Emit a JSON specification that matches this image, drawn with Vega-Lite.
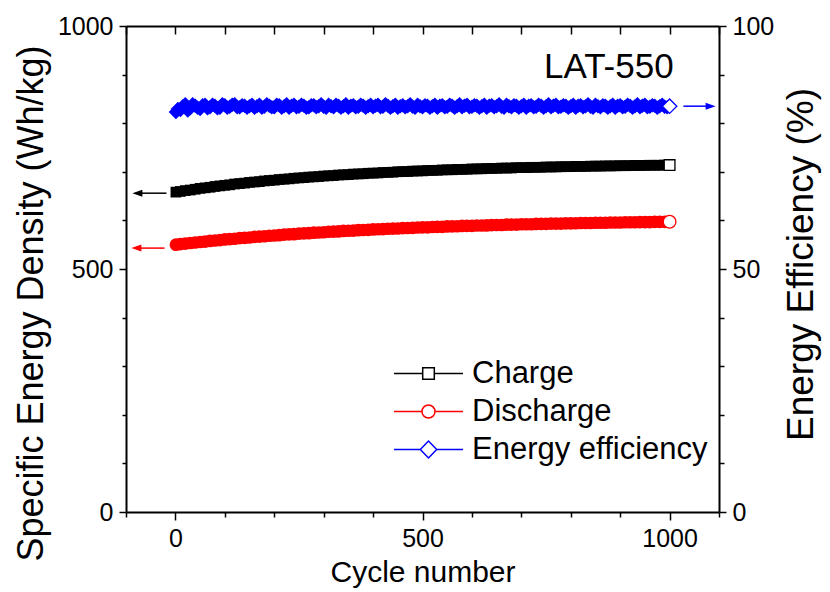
{
  "$schema": "https://vega.github.io/schema/vega-lite/v6.json",
  "width": 593,
  "height": 486,
  "autosize": {"type": "none"},
  "padding": {"left": 126, "top": 26, "right": 111, "bottom": 80},
  "background": "white",
  "config": {
    "view": {"stroke": null},
    "font": "Liberation Sans",
    "axis": {
      "grid": false,
      "domainColor": "black",
      "domainWidth": 2,
      "tickColor": "black",
      "tickWidth": 1.5,
      "labelColor": "black",
      "titleColor": "black",
      "labelFont": "Liberation Sans",
      "titleFont": "Liberation Sans",
      "labelFontSize": 25,
      "titleFontSize": 30,
      "titleFontWeight": "normal",
      "titleLimit": 1000,
      "labelOverlap": false,
      "labelFlush": false
    }
  },
  "datasets": {
    "cyc": [
      {"c":1,"ch":658.2,"dc":550.1},{"c":10,"ch":659.6,"dc":551.2},{"c":20,"ch":661.4,"dc":552.3},{"c":30,"ch":662.5,"dc":553.4},
      {"c":40,"ch":664.1,"dc":554.5},{"c":50,"ch":665.9,"dc":555.6},{"c":60,"ch":667.0,"dc":556.4},{"c":70,"ch":668.2,"dc":557.8},
      {"c":80,"ch":669.8,"dc":558.6},{"c":90,"ch":671.0,"dc":559.4},{"c":100,"ch":672.2,"dc":560.8},{"c":110,"ch":673.2,"dc":561.5},
      {"c":120,"ch":674.9,"dc":562.2},{"c":130,"ch":675.8,"dc":563.5},{"c":140,"ch":676.7,"dc":564.2},{"c":150,"ch":678.2,"dc":564.8},
      {"c":160,"ch":679.0,"dc":566.1},{"c":170,"ch":679.8,"dc":566.7},{"c":180,"ch":681.2,"dc":567.3},{"c":190,"ch":682.1,"dc":568.5},
      {"c":200,"ch":682.8,"dc":569.0},{"c":210,"ch":684.1,"dc":569.6},{"c":220,"ch":684.8,"dc":570.7},{"c":230,"ch":685.5,"dc":571.2},
      {"c":240,"ch":686.7,"dc":571.7},{"c":250,"ch":687.4,"dc":572.8},{"c":260,"ch":688.0,"dc":573.3},{"c":270,"ch":689.1,"dc":573.7},
      {"c":280,"ch":689.6,"dc":574.7},{"c":290,"ch":690.2,"dc":575.2},{"c":300,"ch":691.3,"dc":575.6},{"c":310,"ch":691.8,"dc":576.6},
      {"c":320,"ch":692.3,"dc":577.0},{"c":330,"ch":693.4,"dc":577.3},{"c":340,"ch":693.8,"dc":578.3},{"c":350,"ch":694.2,"dc":578.7},
      {"c":360,"ch":695.3,"dc":579.0},{"c":370,"ch":695.6,"dc":579.9},{"c":380,"ch":696.0,"dc":580.2},{"c":390,"ch":697.0,"dc":580.5},
      {"c":400,"ch":697.3,"dc":581.4},{"c":410,"ch":697.6,"dc":581.7},{"c":420,"ch":698.6,"dc":582.0},{"c":430,"ch":698.9,"dc":582.8},
      {"c":440,"ch":699.2,"dc":583.1},{"c":450,"ch":700.1,"dc":583.3},{"c":460,"ch":700.4,"dc":584.1},{"c":470,"ch":700.6,"dc":584.4},
      {"c":480,"ch":701.4,"dc":584.6},{"c":490,"ch":701.7,"dc":585.4},{"c":500,"ch":701.9,"dc":585.6},{"c":510,"ch":702.7,"dc":585.7},
      {"c":520,"ch":702.9,"dc":586.5},{"c":530,"ch":703.1,"dc":586.7},{"c":540,"ch":703.8,"dc":586.8},{"c":550,"ch":704.1,"dc":587.6},
      {"c":560,"ch":704.2,"dc":587.7},{"c":570,"ch":704.9,"dc":587.9},{"c":580,"ch":705.0,"dc":588.6},{"c":590,"ch":705.2,"dc":588.7},
      {"c":600,"ch":705.9,"dc":588.8},{"c":610,"ch":706.0,"dc":589.5},{"c":620,"ch":706.2,"dc":589.6},{"c":630,"ch":706.8,"dc":589.7},
      {"c":640,"ch":706.9,"dc":590.4},{"c":650,"ch":707.1,"dc":590.5},{"c":660,"ch":707.7,"dc":590.6},{"c":670,"ch":707.7,"dc":591.2},
      {"c":680,"ch":707.8,"dc":591.3},{"c":690,"ch":708.5,"dc":591.4},{"c":700,"ch":708.5,"dc":592.0},{"c":710,"ch":708.6,"dc":592.1},
      {"c":720,"ch":709.2,"dc":592.1},{"c":730,"ch":709.2,"dc":592.7},{"c":740,"ch":709.3,"dc":592.8},{"c":750,"ch":709.9,"dc":592.8},
      {"c":760,"ch":709.9,"dc":593.4},{"c":770,"ch":710.0,"dc":593.4},{"c":780,"ch":710.5,"dc":593.5},{"c":790,"ch":710.5,"dc":594.0},
      {"c":800,"ch":710.6,"dc":594.0},{"c":810,"ch":711.1,"dc":594.1},{"c":820,"ch":711.1,"dc":594.6},{"c":830,"ch":711.2,"dc":594.6},
      {"c":840,"ch":711.6,"dc":594.7},{"c":850,"ch":711.7,"dc":595.2},{"c":860,"ch":711.7,"dc":595.2},{"c":870,"ch":712.1,"dc":595.2},
      {"c":880,"ch":712.1,"dc":595.7},{"c":890,"ch":712.2,"dc":595.7},{"c":900,"ch":712.6,"dc":595.7},{"c":910,"ch":712.5,"dc":596.2},
      {"c":920,"ch":712.7,"dc":596.1},{"c":930,"ch":713.1,"dc":596.2},{"c":940,"ch":713.0,"dc":596.6},{"c":950,"ch":713.1,"dc":596.6},
      {"c":960,"ch":713.5,"dc":596.6},{"c":970,"ch":713.4,"dc":597.1},{"c":980,"ch":713.5,"dc":597.0},{"c":990,"ch":713.9,"dc":597.1},
      {"c":1000,"ch":713.8,"dc":597.3}
    ],
    "eff": [
      {"c":1,"ee":82.3},{"c":5,"ee":82.9},{"c":10,"ee":82.7},{"c":15,"ee":83.5},{"c":20,"ee":83.9},{"c":25,"ee":82.6},{"c":30,"ee":83.1},{"c":35,"ee":83.9},
      {"c":40,"ee":83.6},{"c":45,"ee":83.2},{"c":50,"ee":82.9},{"c":55,"ee":83.7},{"c":60,"ee":83.8},{"c":65,"ee":83.1},{"c":70,"ee":83.3},{"c":75,"ee":83.8},
      {"c":80,"ee":83.6},{"c":85,"ee":83.1},{"c":90,"ee":83.2},{"c":95,"ee":83.9},{"c":100,"ee":83.7},{"c":105,"ee":83.2},{"c":110,"ee":83.4},{"c":115,"ee":83.8},
      {"c":120,"ee":83.9},{"c":125,"ee":83.3},{"c":130,"ee":83.3},{"c":135,"ee":83.7},{"c":140,"ee":83.6},{"c":145,"ee":83.2},{"c":150,"ee":83.5},{"c":155,"ee":83.8},
      {"c":160,"ee":83.2},{"c":165,"ee":83.5},{"c":170,"ee":83.8},{"c":175,"ee":83.2},{"c":180,"ee":83.4},{"c":185,"ee":83.9},{"c":190,"ee":83.6},{"c":195,"ee":83.3},
      {"c":200,"ee":83.3},{"c":205,"ee":83.8},{"c":210,"ee":83.7},{"c":215,"ee":83.2},{"c":220,"ee":83.5},{"c":225,"ee":83.9},{"c":230,"ee":83.2},{"c":235,"ee":83.6},
      {"c":240,"ee":83.8},{"c":245,"ee":83.3},{"c":250,"ee":83.4},{"c":255,"ee":83.8},{"c":260,"ee":83.6},{"c":265,"ee":83.2},{"c":270,"ee":83.3},{"c":275,"ee":83.7},
      {"c":280,"ee":83.7},{"c":285,"ee":83.3},{"c":290,"ee":83.5},{"c":295,"ee":83.9},{"c":300,"ee":83.4},{"c":305,"ee":83.2},{"c":310,"ee":83.8},{"c":315,"ee":83.5},
      {"c":320,"ee":83.3},{"c":325,"ee":83.8},{"c":330,"ee":83.6},{"c":335,"ee":83.2},{"c":340,"ee":83.5},{"c":345,"ee":83.9},{"c":350,"ee":83.2},{"c":355,"ee":83.6},
      {"c":360,"ee":83.7},{"c":365,"ee":83.3},{"c":370,"ee":83.4},{"c":375,"ee":83.8},{"c":380,"ee":83.6},{"c":385,"ee":83.2},{"c":390,"ee":83.5},{"c":395,"ee":83.8},
      {"c":400,"ee":83.3},{"c":405,"ee":83.6},{"c":410,"ee":83.8},{"c":415,"ee":83.3},{"c":420,"ee":83.4},{"c":425,"ee":83.9},{"c":430,"ee":83.6},{"c":435,"ee":83.2},
      {"c":440,"ee":83.5},{"c":445,"ee":83.8},{"c":450,"ee":83.2},{"c":455,"ee":83.5},{"c":460,"ee":83.7},{"c":465,"ee":83.3},{"c":470,"ee":83.5},{"c":475,"ee":83.9},
      {"c":480,"ee":83.4},{"c":485,"ee":83.2},{"c":490,"ee":83.8},{"c":495,"ee":83.5},{"c":500,"ee":83.3},{"c":505,"ee":83.7},{"c":510,"ee":83.6},{"c":515,"ee":83.2},
      {"c":520,"ee":83.5},{"c":525,"ee":83.8},{"c":530,"ee":83.2},{"c":535,"ee":83.6},{"c":540,"ee":83.7},{"c":545,"ee":83.3},{"c":550,"ee":83.4},{"c":555,"ee":83.8},
      {"c":560,"ee":83.6},{"c":565,"ee":83.2},{"c":570,"ee":83.5},{"c":575,"ee":83.9},{"c":580,"ee":83.3},{"c":585,"ee":83.6},{"c":590,"ee":83.8},{"c":595,"ee":83.3},
      {"c":600,"ee":83.4},{"c":605,"ee":83.7},{"c":610,"ee":83.6},{"c":615,"ee":83.2},{"c":620,"ee":83.5},{"c":625,"ee":83.8},{"c":630,"ee":83.2},{"c":635,"ee":83.6},
      {"c":640,"ee":83.7},{"c":645,"ee":83.3},{"c":650,"ee":83.5},{"c":655,"ee":83.9},{"c":660,"ee":83.4},{"c":665,"ee":83.2},{"c":670,"ee":83.8},{"c":675,"ee":83.5},
      {"c":680,"ee":83.3},{"c":685,"ee":83.7},{"c":690,"ee":83.6},{"c":695,"ee":83.2},{"c":700,"ee":83.5},{"c":705,"ee":83.8},{"c":710,"ee":83.2},{"c":715,"ee":83.6},
      {"c":720,"ee":83.7},{"c":725,"ee":83.3},{"c":730,"ee":83.4},{"c":735,"ee":83.8},{"c":740,"ee":83.6},{"c":745,"ee":83.2},{"c":750,"ee":83.5},{"c":755,"ee":83.9},
      {"c":760,"ee":83.3},{"c":765,"ee":83.6},{"c":770,"ee":83.8},{"c":775,"ee":83.3},{"c":780,"ee":83.4},{"c":785,"ee":83.7},{"c":790,"ee":83.6},{"c":795,"ee":83.2},
      {"c":800,"ee":83.5},{"c":805,"ee":83.8},{"c":810,"ee":83.2},{"c":815,"ee":83.6},{"c":820,"ee":83.7},{"c":825,"ee":83.3},{"c":830,"ee":83.5},{"c":835,"ee":83.9},
      {"c":840,"ee":83.4},{"c":845,"ee":83.2},{"c":850,"ee":83.8},{"c":855,"ee":83.5},{"c":860,"ee":83.3},{"c":865,"ee":83.7},{"c":870,"ee":83.6},{"c":875,"ee":83.2},
      {"c":880,"ee":83.5},{"c":885,"ee":83.8},{"c":890,"ee":83.2},{"c":895,"ee":83.6},{"c":900,"ee":83.7},{"c":905,"ee":83.3},{"c":910,"ee":83.4},{"c":915,"ee":83.8},
      {"c":920,"ee":83.6},{"c":925,"ee":83.2},{"c":930,"ee":83.5},{"c":935,"ee":83.9},{"c":940,"ee":83.3},{"c":945,"ee":83.6},{"c":950,"ee":83.8},{"c":955,"ee":83.3},
      {"c":960,"ee":83.4},{"c":965,"ee":83.7},{"c":970,"ee":83.6},{"c":975,"ee":83.2},{"c":980,"ee":83.5},{"c":985,"ee":83.8},{"c":990,"ee":83.4},{"c":995,"ee":83.3},
      {"c":1000,"ee":83.5}
    ]
  },
  "data": {"name": "cyc"},
  "layer": [
    {
      "mark": {"type": "point", "shape": "square", "filled": true, "size": 115, "color": "#000000", "opacity": 1},
      "encoding": {
        "x": {"field": "c", "type": "quantitative", "scale": {"domain": [-100, 1100], "nice": false, "zero": false},
          "axis": {"orient": "bottom", "values": [0, 500, 1000], "format": "d", "tickSize": 8, "labelPadding": 6, "title": "Cycle number", "titlePadding": 6}},
        "y": {"field": "ch", "type": "quantitative", "scale": {"domain": [0, 1000], "nice": false},
          "axis": {"orient": "left", "values": [0, 500, 1000], "format": "d", "tickSize": 7, "labelPadding": 6, "title": "Specific Energy Density (Wh/kg)", "titleFontSize": 36, "titlePadding": 7, "titleY": 277}}
      }
    },
    {
      "mark": {"type": "point", "shape": "circle", "filled": true, "size": 160, "color": "#ff0000", "opacity": 1},
      "encoding": {
        "x": {"field": "c", "type": "quantitative", "scale": {"domain": [-100, 1100], "nice": false, "zero": false},
          "axis": {"orient": "bottom", "values": [-100, 100, 200, 300, 400, 600, 700, 800, 900, 1100], "tickSize": 5, "labels": false, "domain": false, "title": null}},
        "y": {"field": "dc", "type": "quantitative", "scale": {"domain": [0, 1000], "nice": false},
          "axis": {"orient": "left", "values": [100, 200, 300, 400, 600, 700, 800, 900], "tickSize": 4, "labels": false, "domain": false, "title": null}}
      }
    },
    {
      "data": {"name": "eff"},
      "mark": {"type": "point", "shape": "diamond", "filled": true, "size": 210, "color": "#0000ff", "opacity": 1},
      "encoding": {
        "x": {"field": "c", "type": "quantitative", "scale": {"domain": [-100, 1100], "nice": false, "zero": false},
          "axis": {"orient": "top", "values": [-100, 0, 100, 200, 300, 400, 500, 600, 700, 800, 900, 1000, 1100], "tickSize": -8, "labels": false, "domain": true, "title": null}},
        "y": {"field": "ee", "type": "quantitative", "scale": {"domain": [0, 100], "nice": false},
          "axis": {"orient": "right", "values": [0, 50, 100], "format": "d", "tickSize": 7, "labelPadding": 6, "title": "Energy Efficiency (%)", "titleFontSize": 37, "titleAngle": 270, "titleBaseline": "top", "titlePadding": 10, "titleY": 238}}
      }
    },
    {
      "transform": [{"filter": "datum.c == 1000"}],
      "mark": {"type": "point", "shape": "square", "filled": true, "fill": "white", "stroke": "#000000", "strokeWidth": 1.3, "size": 115, "opacity": 1},
      "encoding": {
        "x": {"field": "c", "type": "quantitative", "scale": {"domain": [-100, 1100], "nice": false, "zero": false}, "axis": null},
        "y": {"field": "ch", "type": "quantitative", "scale": {"domain": [0, 1000], "nice": false}, "axis": null}
      }
    },
    {
      "transform": [{"filter": "datum.c == 1000"}],
      "mark": {"type": "point", "shape": "circle", "filled": true, "fill": "white", "stroke": "#ff0000", "strokeWidth": 1.3, "size": 160, "opacity": 1},
      "encoding": {
        "x": {"field": "c", "type": "quantitative", "scale": {"domain": [-100, 1100], "nice": false, "zero": false}, "axis": null},
        "y": {"field": "dc", "type": "quantitative", "scale": {"domain": [0, 1000], "nice": false}, "axis": null}
      }
    },
    {
      "data": {"name": "eff"},
      "transform": [{"filter": "datum.c == 1000"}],
      "mark": {"type": "point", "shape": "diamond", "filled": true, "fill": "white", "stroke": "#0000ff", "strokeWidth": 1.3, "size": 210, "opacity": 1},
      "encoding": {
        "x": {"field": "c", "type": "quantitative", "scale": {"domain": [-100, 1100], "nice": false, "zero": false}, "axis": null},
        "y": {"field": "ee", "type": "quantitative", "scale": {"domain": [0, 100], "nice": false}, "axis": null}
      }
    },
    {
      "data": {"values": [{}]},
      "mark": {"type": "rule", "color": "#000000", "strokeWidth": 1.5},
      "encoding": {
        "x": {"datum": -80, "type": "quantitative", "scale": {"domain": [-100, 1100], "nice": false, "zero": false}, "axis": null},
        "x2": {"datum": -18},
        "y": {"datum": 656, "type": "quantitative", "scale": {"domain": [0, 1000], "nice": false}, "axis": null}
      }
    },
    {
      "data": {"values": [{}]},
      "mark": {"type": "point", "shape": "M-1,0L1,-0.7L1,0.7Z", "filled": true, "color": "#000000", "size": 100, "opacity": 1},
      "encoding": {
        "x": {"datum": -77, "type": "quantitative", "scale": {"domain": [-100, 1100], "nice": false, "zero": false}, "axis": null},
        "y": {"datum": 656, "type": "quantitative", "scale": {"domain": [0, 1000], "nice": false}, "axis": null}
      }
    },
    {
      "data": {"values": [{}]},
      "mark": {"type": "rule", "color": "#ff0000", "strokeWidth": 1.5},
      "encoding": {
        "x": {"datum": -82, "type": "quantitative", "scale": {"domain": [-100, 1100], "nice": false, "zero": false}, "axis": null},
        "x2": {"datum": -22},
        "y": {"datum": 543, "type": "quantitative", "scale": {"domain": [0, 1000], "nice": false}, "axis": null}
      }
    },
    {
      "data": {"values": [{}]},
      "mark": {"type": "point", "shape": "M-1,0L1,-0.7L1,0.7Z", "filled": true, "color": "#ff0000", "size": 100, "opacity": 1},
      "encoding": {
        "x": {"datum": -79, "type": "quantitative", "scale": {"domain": [-100, 1100], "nice": false, "zero": false}, "axis": null},
        "y": {"datum": 543, "type": "quantitative", "scale": {"domain": [0, 1000], "nice": false}, "axis": null}
      }
    },
    {
      "data": {"values": [{}]},
      "mark": {"type": "rule", "color": "#0000ff", "strokeWidth": 1.5},
      "encoding": {
        "x": {"datum": 1028, "type": "quantitative", "scale": {"domain": [-100, 1100], "nice": false, "zero": false}, "axis": null},
        "x2": {"datum": 1085},
        "y": {"datum": 83.5, "type": "quantitative", "scale": {"domain": [0, 100], "nice": false},
          "axis": {"orient": "right", "values": [10, 20, 30, 40, 60, 70, 80, 90], "tickSize": 5, "labels": false, "domain": false, "title": null}}
      }
    },
    {
      "data": {"values": [{}]},
      "mark": {"type": "point", "shape": "M1,0L-1,-0.7L-1,0.7Z", "filled": true, "color": "#0000ff", "size": 100, "opacity": 1},
      "encoding": {
        "x": {"datum": 1083, "type": "quantitative", "scale": {"domain": [-100, 1100], "nice": false, "zero": false}, "axis": null},
        "y": {"datum": 83.5, "type": "quantitative", "scale": {"domain": [0, 100], "nice": false}, "axis": null}
      }
    },
    {
      "data": {"values": [{}]},
      "mark": {"type": "text", "text": "LAT-550", "fontSize": 35, "font": "Liberation Sans", "align": "center", "baseline": "alphabetic", "color": "#000000"},
      "encoding": {
        "x": {"datum": 877, "type": "quantitative", "scale": {"domain": [-100, 1100], "nice": false, "zero": false}, "axis": null},
        "y": {"datum": 894, "type": "quantitative", "scale": {"domain": [0, 1000], "nice": false}, "axis": null}
      }
    },
    {
      "data": {"values": [{"s": "Charge"}, {"s": "Discharge"}, {"s": "Energy efficiency"}]},
      "transform": [{"filter": "false"}],
      "mark": {"type": "point", "filled": false, "strokeWidth": 1.5, "opacity": 1},
      "encoding": {
        "color": {"field": "s", "type": "nominal",
          "scale": {"domain": ["Charge", "Discharge", "Energy efficiency"], "range": ["#000000", "#ff0000", "#0000ff"]},
          "legend": {"title": null, "orient": "none", "legendX": 268, "legendY": 332, "direction": "vertical", "symbolSize": 400, "symbolStrokeWidth": 1.5, "symbolOffset": 19, "labelOffset": 28, "labelFontSize": 31, "labelFont": "Liberation Sans", "labelColor": "black", "rowPadding": 6, "padding": 0, "labelLimit": 0}},
        "shape": {"field": "s", "type": "nominal",
          "scale": {"domain": ["Charge", "Discharge", "Energy efficiency"], "range": [
            "M-3.45,0H-0.58M0.58,0H3.45M-0.58,-0.58H0.58V0.58H-0.58Z",
            "M-3.45,0H-0.65M0.65,0H3.45M-0.65,0A0.65,0.65,0,1,0,0.65,0A0.65,0.65,0,1,0,-0.65,0Z",
            "M-3.45,0H-0.82M0.82,0H3.45M-0.82,0L0,-0.85L0.82,0L0,0.85Z"
          ]},
          "legend": {"title": null, "orient": "none", "legendX": 268, "legendY": 332, "direction": "vertical", "symbolSize": 400, "symbolStrokeWidth": 1.5, "symbolOffset": 19, "labelOffset": 28, "labelFontSize": 31, "labelFont": "Liberation Sans", "labelColor": "black", "rowPadding": 6, "padding": 0, "labelLimit": 0}}
      }
    }
  ],
  "resolve": {"scale": {"y": "independent"}, "axis": {"x": "independent", "y": "independent"}}
}
